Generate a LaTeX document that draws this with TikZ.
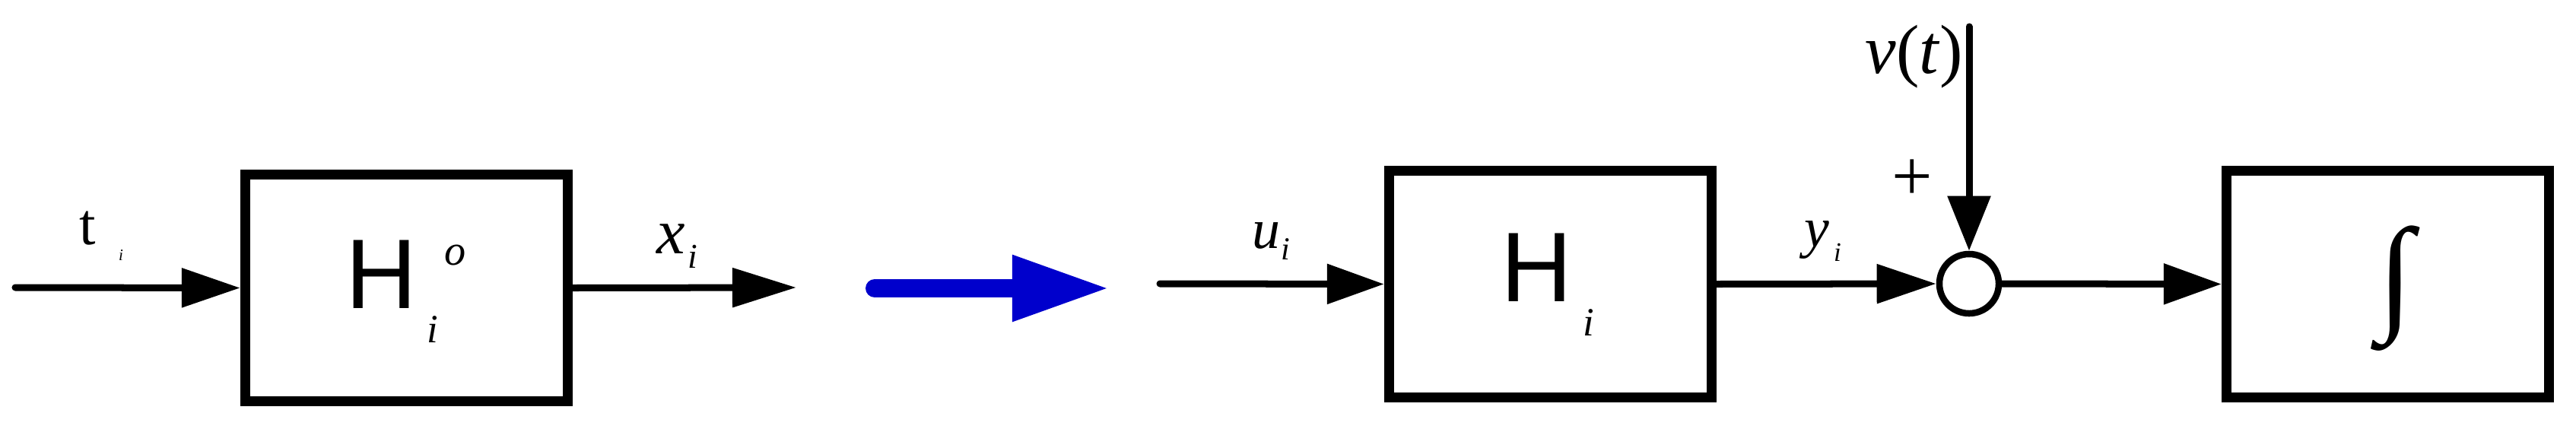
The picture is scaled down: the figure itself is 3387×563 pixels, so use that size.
\documentclass[tikz,border=0pt]{standalone}
\usepackage{fontspec}
\setmainfont{Liberation Serif}
\newfontfamily\hfont{Liberation Sans}
\usetikzlibrary{arrows.meta}
\newcommand{\fsz}[1]{\fontsize{#1}{#1}\selectfont}
\definecolor{arrowblue}{HTML}{0000CC}
\begin{document}
\begin{tikzpicture}[x=0.01cm,y=-0.01cm,
  blockbox/.style={draw,line width=0.13cm,minimum width=4.24cm,minimum height=2.98cm,inner sep=0pt},
  sumnode/.style={draw,circle,line width=0.085cm,minimum size=0.78cm,inner sep=0pt},
  conn/.style={line width=0.09cm,line cap=round},
  lbl/.style={inner sep=0pt,anchor=center}]
\useasboundingbox (0,0) rectangle (3387,563);
% blocks
\node[blockbox] (b1) at (534.5,378.5) {};
\node[blockbox] (b2) at (2038.5,373.5) {};
\node[blockbox] (b3) at (3139.5,373.5) {};
\node[sumnode] (sum) at (2589,373) {};
% free ends
\coordinate (in1) at (20,378);
\coordinate (out1) at (1047,378);
\coordinate (bs) at (1150,379);
\coordinate (be) at (1459,379);
\coordinate (in2) at (1525,373);
\coordinate (vtop) at (2589,35);
% connectors
\draw[conn,-{Triangle[length=0.77cm,width=0.5cm]}] (in1) -- (b1.west);
\draw[conn,-{Triangle[length=0.84cm,width=0.5cm]}] (b1.east) -- (out1);
\draw[arrowblue,line width=0.24cm,line cap=round,-{Triangle[length=1.28cm,width=0.81cm]}] (bs) -- (be);
\draw[conn,-{Triangle[length=0.75cm,width=0.51cm]}] (in2) -- (b2.west);
\draw[conn,-{Triangle[length=0.78cm,width=0.5cm]}] (b2.east) -- (sum.west);
\draw[conn,-{Triangle[length=0.72cm,width=0.55cm]}] (vtop) -- (sum.north);
\draw[conn,-{Triangle[length=0.76cm,width=0.52cm]}] (sum.east) -- (b3.west);
% labels
\node[lbl] (lt) at (115,300) {\fsz{22pt}t};
\node[lbl] (lti) at (159,336) {\fsz{6pt}\itshape i};
\node[lbl] (lx) at (882,314) {\fsz{24pt}\itshape x};
\node[lbl] (lxi) at (911,337) {\fsz{13pt}\itshape i};
\node[lbl] (lu) at (1665,310) {\fsz{21pt}\itshape u};
\node[lbl] (lui) at (1690,328) {\fsz{12pt}\itshape i};
\node[lbl] (ly) at (2389,316) {\fsz{21pt}\itshape y};
\node[lbl] (lyi) at (2416,332) {\fsz{10pt}\itshape i};
\node[lbl] (lv) at (2517,75) {\fsz{26pt}\itshape v\/\upshape(\itshape t\/\upshape)};
\node[lbl] (lplus) at (2514,237) {\fsz{27pt}+};
\node[lbl] (h1) at (501,361) {\fsz{37pt}\hfont H};
\node[lbl] (h1o) at (599,336) {\fsz{16pt}\itshape o};
\node[lbl] (h1i) at (569,433) {\fsz{15pt}\itshape i};
\node[lbl] (h2) at (2020,352) {\fsz{37pt}\hfont H};
\node[lbl] (h2i) at (2089,424) {\fsz{15pt}\itshape i};
\node[lbl] (intg) at (3149.5,379.5) {\resizebox*{13.3pt}{46.8pt}{\fsz{40pt}∫}};
\end{tikzpicture}
\end{document}
